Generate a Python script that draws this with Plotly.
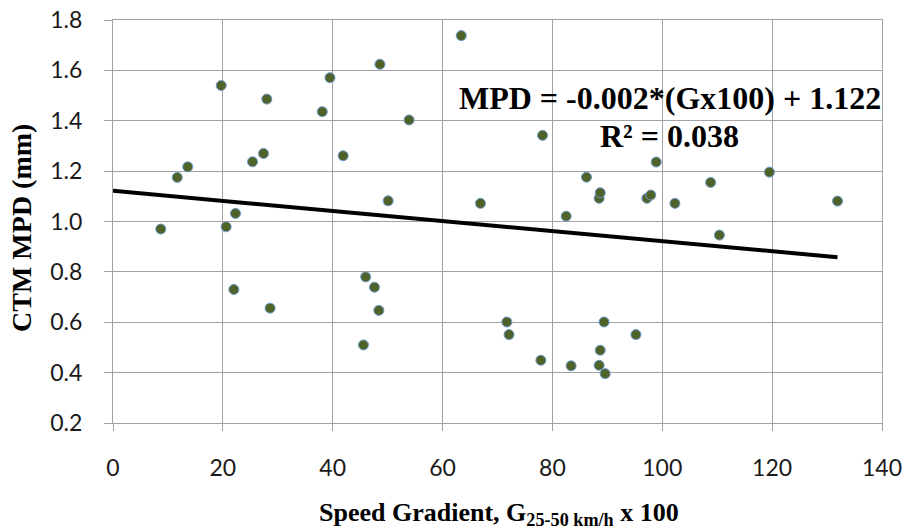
import plotly.graph_objects as go

# Speed gradient (G x 100) and CTM mean profile depth (mm) per site
gradient = [8.7, 11.7, 13.6, 19.7, 20.6, 22.0, 22.3, 25.4, 27.4, 28.0,
            28.6, 38.1, 39.5, 41.9, 45.6, 46.0, 47.6, 48.4, 48.6, 50.1,
            53.9, 63.4, 66.9, 71.7, 72.1, 77.9, 78.2, 82.5, 83.4, 86.2,
            88.5, 88.7, 88.5, 88.7, 89.4, 89.6, 95.2, 97.2, 97.9, 98.9,
            102.3, 108.8, 110.4, 119.5, 131.9]
mpd = [0.97, 1.175, 1.217, 1.54, 0.979, 0.73, 1.032, 1.237, 1.27, 1.486,
       0.656, 1.436, 1.571, 1.261, 0.51, 0.78, 0.739, 0.647, 1.624, 1.082,
       1.403, 1.738, 1.072, 0.601, 0.551, 0.449, 1.342, 1.021, 0.427, 1.176,
       1.092, 1.114, 0.429, 0.489, 0.601, 0.396, 0.551, 1.092, 1.105, 1.236,
       1.072, 1.155, 0.946, 1.196, 1.081]

# Linear trend as reported on the chart
slope = -0.002
intercept = 1.122
r_squared = 0.038

x_ticks = [0, 20, 40, 60, 80, 100, 120, 140]
y_ticks = [0.2, 0.4, 0.6, 0.8, 1.0, 1.2, 1.4, 1.6, 1.8]

trend_x = [0, max(gradient)]
trend_y = [intercept + slope * v for v in trend_x]

fig = go.Figure()
fig.add_trace(go.Scatter(
    x=gradient, y=mpd, mode="markers",
    marker=dict(size=10, color="#4F6228", line=dict(width=1, color="#6E9AD0")),
    showlegend=False,
))
fig.add_trace(go.Scatter(
    x=trend_x, y=trend_y, mode="lines",
    line=dict(color="black", width=4),
    showlegend=False,
))

grid = "#A3A3A3"
fig.update_xaxes(
    range=[0, 140], tickvals=x_ticks, ticktext=[str(v) for v in x_ticks],
    showgrid=True, gridcolor=grid, gridwidth=1,
    showline=True, linecolor=grid, linewidth=1, mirror=True,
    zeroline=False, ticks="outside", ticklen=7, tickcolor=grid,
    ticklabelstandoff=17, automargin=False,
    tickfont=dict(family="Lato", size=23, color="#1a1a1a"),
)
fig.update_yaxes(
    range=[0.2, 1.8], tickvals=y_ticks, ticktext=[f"{v:.1f}" for v in y_ticks],
    showgrid=True, gridcolor=grid, gridwidth=1,
    showline=True, linecolor=grid, linewidth=1, mirror=True,
    zeroline=False, ticks="outside", ticklen=8, tickcolor=grid,
    ticklabelstandoff=17, automargin=False,
    tickfont=dict(family="Lato", size=23, color="#1a1a1a"),
)

serif_bold = dict(family="Liberation Serif", color="black")
fig.add_annotation(
    x=101.4, y=1.49, xref="x", yref="y", showarrow=False,
    text=f"<b>MPD = {slope:.3f}*(Gx100) + {intercept:.3f}</b>",
    font=dict(size=32, **serif_bold), xanchor="center", yanchor="middle",
)
fig.add_annotation(
    x=101.4, y=1.341, xref="x", yref="y", showarrow=False,
    text=f"<b>R² = {r_squared:.3f}</b>",
    font=dict(size=32, **serif_bold), xanchor="center", yanchor="middle",
)
fig.add_annotation(
    x=0.502, y=-0.226, xref="paper", yref="paper", showarrow=False,
    text="<b>Speed Gradient, G<sub>25-50 km/h</sub> x 100</b>",
    font=dict(size=26, **serif_bold), xanchor="center", yanchor="middle",
)
fig.add_annotation(
    x=-0.1183, y=0.484, xref="paper", yref="paper", showarrow=False,
    text="<b>CTM MPD (mm)</b>", textangle=-90,
    font=dict(size=28, **serif_bold), xanchor="center", yanchor="middle",
)

fig.update_layout(
    width=904, height=529,
    margin=dict(l=113, r=22, t=20, b=106, autoexpand=False),
    paper_bgcolor="white", plot_bgcolor="white",
)

fig.write_html("out.html")
